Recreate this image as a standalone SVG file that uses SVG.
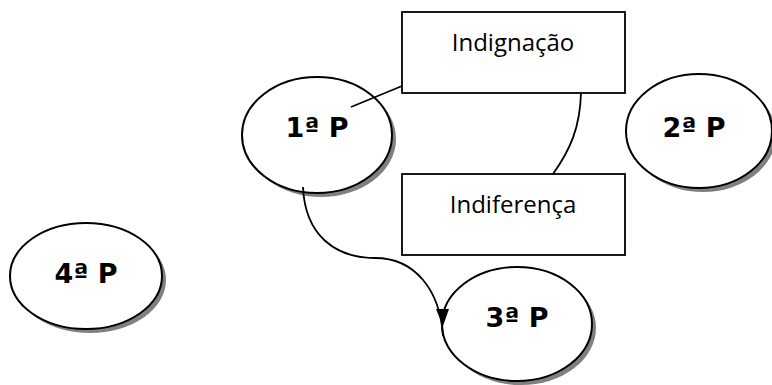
<svg xmlns="http://www.w3.org/2000/svg" width="772" height="385" viewBox="0 0 772 385">
<defs>
<style>
.shadow{fill:#808080;stroke:none}
.ell{fill:#fff;stroke:#000;stroke-width:2}
.box{fill:#fff;stroke:#000;stroke-width:1.8}
.lbl{font-family:"DejaVu Sans",sans-serif;font-weight:bold;font-size:27px;text-anchor:middle;fill:#000}
.txt{font-family:"Open Sans","Liberation Sans",sans-serif;font-size:24px;text-anchor:middle;fill:#000}
.conn{fill:none;stroke:#000;stroke-width:1.8}
.head{fill:#000;stroke:none}
</style>
</defs>
<rect width="772" height="385" fill="#fff"/>
<g id="p1">
<ellipse class="shadow" cx="321" cy="139" rx="75" ry="58"/>
<ellipse class="ell" cx="317" cy="135" rx="75" ry="58"/>
<text class="lbl" x="317" y="137">1ª P</text>
</g>
<g id="p2">
<ellipse class="shadow" cx="703" cy="135" rx="73" ry="57"/>
<ellipse class="ell" cx="699" cy="131" rx="73" ry="57"/>
<text class="lbl" x="694" y="137">2ª P</text>
</g>
<g id="p3">
<ellipse class="shadow" cx="521" cy="328" rx="75" ry="57"/>
<ellipse class="ell" cx="517" cy="324" rx="75" ry="57"/>
<text class="lbl" x="517" y="327">3ª P</text>
</g>
<g id="p4">
<ellipse class="shadow" cx="90" cy="280" rx="76" ry="53"/>
<ellipse class="ell" cx="86" cy="276" rx="76" ry="53"/>
<text class="lbl" x="86" y="283">4ª P</text>
</g>
<g id="indignacao">
<rect class="box" x="402" y="12" width="223" height="81"/>
<text class="txt" x="513" y="51">Indignação</text>
</g>
<g id="indiferenca">
<rect class="box" x="402" y="174" width="223" height="81"/>
<text class="txt" x="513" y="213">Indiferença</text>
</g>
<g id="connectors">
<path class="conn" d="M351,107 L402,86"/>
<path class="conn" d="M581,93 C580,128 570,150 553,174"/>
<path class="conn" d="M303,187 C305,235 335,258 375,258 C415,258 440,290 443,336"/>
<polygon class="head" points="436,309 449,309 443,326"/>
</g>
</svg>
